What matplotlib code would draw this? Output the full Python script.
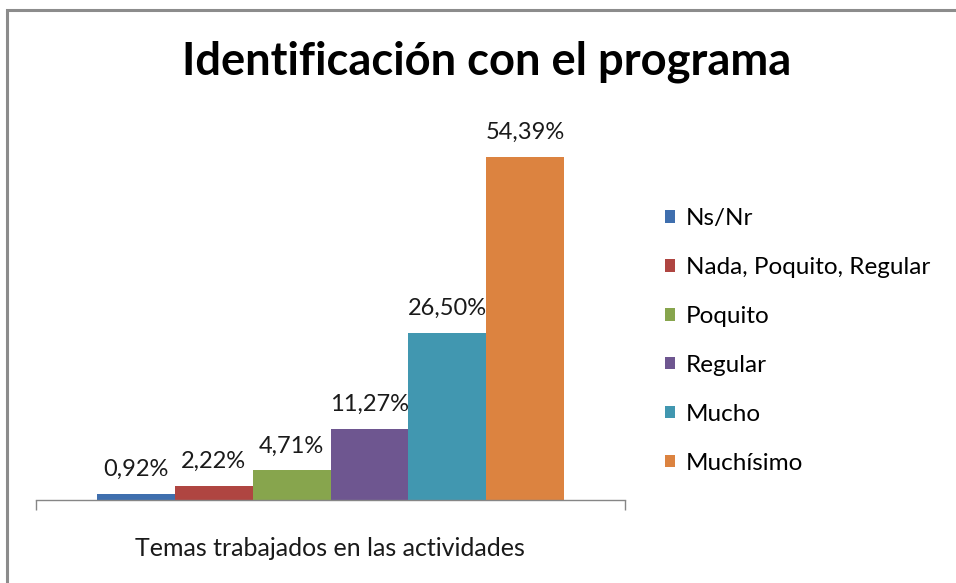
import matplotlib
matplotlib.use("Agg")
import matplotlib.pyplot as plt
from matplotlib.patches import Rectangle

title = "Identificación con el programa"
category = "Temas trabajados en las actividades"
series = ["Ns/Nr", "Nada, Poquito, Regular", "Poquito", "Regular", "Mucho", "Muchísimo"]
values = [0.92, 2.22, 4.71, 11.27, 26.50, 54.39]
labels = ["0,92%", "2,22%", "4,71%", "11,27%", "26,50%", "54,39%"]
colors = ["#3F6FAE", "#AF4541", "#87A54D", "#6E5690", "#4197B0", "#DC8340"]

FONT = "Lato"
W, H = 956, 583
fig = plt.figure(figsize=(W / 100, H / 100), dpi=100)
fig.patch.set_facecolor("white")

# chart border (left and top visible)
fig.add_artist(Rectangle((7 / W, -0.1), 1.2, 1 - 10 / H + 0.1, transform=fig.transFigure,
                         fill=False, edgecolor="#8C8C8C", linewidth=2.2))

ax_l, ax_r, ax_b = 36, 625, 500
ymax = 60
px_per = 343 / 54.39
ax_t = ax_b - ymax * px_per
ax = fig.add_axes([ax_l / W, 1 - ax_b / H, (ax_r - ax_l) / W, (ax_b - ax_t) / H])
ax.set_facecolor("none")

x = list(range(len(values)))
bars = ax.bar(x, values, width=1.0, color=colors, edgecolor="none")
for xi, v, lab in zip(x, values, labels):
    ax.annotate(lab, (xi, v), xytext=(0, 10), textcoords="offset points",
                ha="center", va="bottom", fontsize=17, family=FONT, color="#1a1a1a")

margin = 61 / (466 / 6)
x0, x1 = -0.5 - margin, 5.5 + margin
ax.set_xlim(x0, x1)
ax.set_ylim(0, ymax)
for s in ["left", "right", "top"]:
    ax.spines[s].set_visible(False)
ax.spines["bottom"].set_color("#868686")
ax.spines["bottom"].set_linewidth(1.0)
ax.set_yticks([])
ax.set_xticks([x0, x1])
ax.set_xticklabels(["", ""])
ax.tick_params(axis="x", direction="out", length=7.5, color="#868686", width=1.0)

fig.text(330 / W, 1 - 548 / H, category, ha="center", va="center",
         fontsize=18, family=FONT, color="#1a1a1a")
fig.text(487 / W, 1 - 62 / H, title, ha="center", va="center",
         fontsize=32.6, family=FONT, fontweight="bold", color="black")

handles = [Rectangle((0, 0), 1, 1, facecolor=c, edgecolor="none") for c in colors]
fig.legend(handles, series, loc="upper left", bbox_to_anchor=(665 / W, 1 - 208 / H),
           frameon=False, prop={"family": FONT, "size": 17.5}, handlelength=0.42,
           handleheight=0.42, handletextpad=0.45, labelspacing=1.15, borderaxespad=0,
           borderpad=0)

fig.savefig("out.png", dpi=100)
